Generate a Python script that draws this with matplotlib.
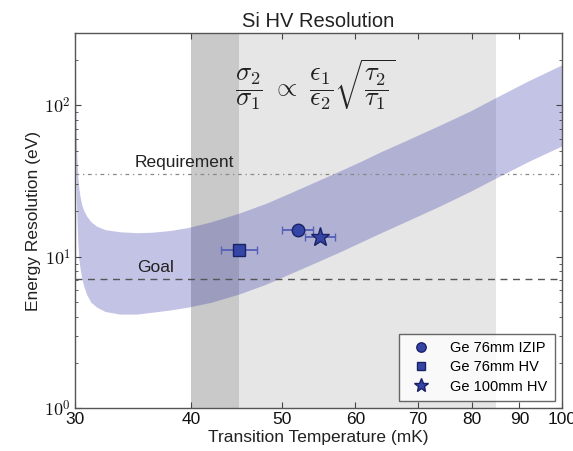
import matplotlib
matplotlib.use("Agg")
import matplotlib.pyplot as plt
from matplotlib.ticker import (FixedLocator, FixedFormatter, LogLocator, NullFormatter,
                               NullLocator, FuncFormatter)
import numpy as np

plt.rcParams['font.family'] = ['Liberation Sans', 'DejaVu Sans']
plt.rcParams['mathtext.fontset'] = 'cm'

# Resolution band: temperature (mK) with upper / lower edge (eV)
band_T = [30.02, 30.05, 30.09, 30.13, 30.2, 30.28, 30.37, 30.5, 30.65, 30.88,
          31.2, 31.64, 32.3, 33.5, 35.0, 36.3, 38.0, 39.7, 42.0, 45.0,
          48.0, 51.0, 54.5, 57.8, 61.0, 63.6, 68.0, 73.8, 79.5, 85.5, 92.0, 100.0]
band_hi = [330, 120, 65, 46, 34, 28.5, 25, 22, 20.2, 18.5,
           17.0, 15.9, 15.1, 14.6, 14.4, 14.5, 14.9, 15.6, 17.0, 19.4,
           22.4, 26.3, 31.5, 37.0, 43.0, 48.7, 58.5, 73.5, 91.0, 115, 145, 185]
band_lo = [60, 35, 25, 19, 12.5, 9.6, 8.4, 7.2, 6.4, 5.6,
           5.0, 4.65, 4.35, 4.18, 4.18, 4.3, 4.45, 4.65, 5.0, 5.67,
           6.55, 7.7, 9.2, 10.8, 12.6, 14.2, 17.1, 21.5, 26.8, 33.8, 42.5, 54]

# Measured devices
dev_names = ["Ge 76mm IZIP", "Ge 76mm HV", "Ge 100mm HV"]
dev_T = [52.0, 45.0, 55.0]
dev_Terr = [2.0, 2.0, 2.0]
dev_res = [15.0, 11.0, 13.5]
dev_markers = ["o", "s", "*"]
dev_sizes = [9, 8, 14]

requirement = 35.0
goal = 7.1

x_ticks = [30, 40, 50, 60, 70, 80, 90, 100]

fig = plt.figure(figsize=(5.73, 4.51), dpi=100)
ax = fig.add_axes([0.131, 0.095, 0.850, 0.832])
ax.set_xscale("log")
ax.set_yscale("log")

# operating temperature window
ax.axvspan(40, 45, color="#c9c9c9", lw=0, zorder=0)
ax.axvspan(45, 85, color="#e6e6e6", lw=0, zorder=0)

ax.fill_between(band_T, band_lo, band_hi, color="#2a2aa8", alpha=0.28, lw=0, zorder=1)

ax.axhline(requirement, color="#888888", ls=(0, (3, 3, 1, 3)), lw=0.9, zorder=2)
ax.axhline(goal, color="#555555", ls=(0, (5, 4)), lw=1.0, zorder=2)
ax.text(39.3, requirement * 1.06, "Requirement", fontsize=12.5, color="#222222",
        ha="center", va="bottom")
ax.text(36.6, goal * 1.06, "Goal", fontsize=12.5, color="#222222",
        ha="center", va="bottom")

for T, dT, r, m, s, name in zip(dev_T, dev_Terr, dev_res, dev_markers, dev_sizes, dev_names):
    ax.errorbar(T, r, xerr=dT, fmt="none", ecolor="#5560b8", elinewidth=1.3,
                capsize=3, capthick=1.0, zorder=3)
    ax.plot(T, r, marker=m, ms=s, color="#3545a5", mec="#1a2266", mew=1.0,
            ls="none", zorder=4, label=name)

ax.text(0.493, 0.86,
        r"$\dfrac{\sigma_2}{\sigma_1}\ \propto\ \dfrac{\epsilon_1}{\epsilon_2}\sqrt{\dfrac{\tau_2}{\tau_1}}$",
        transform=ax.transAxes, fontsize=19, ha="center", va="center", color="#222222")

ax.set_xlim(30, 100)
ax.set_ylim(1, 300)
ax.xaxis.set_major_locator(FixedLocator(x_ticks))
ax.xaxis.set_major_formatter(FixedFormatter([str(t) for t in x_ticks]))
ax.xaxis.set_minor_locator(NullLocator())
ax.yaxis.set_major_locator(LogLocator(base=10))
ax.yaxis.set_major_formatter(FuncFormatter(lambda v, p: r"$10^{%d}$" % int(round(np.log10(v)))))
ax.yaxis.set_minor_locator(LogLocator(base=10, subs=range(2, 10)))
ax.yaxis.set_minor_formatter(NullFormatter())

ax.tick_params(which="both", direction="in", top=True, right=True, colors="#444444",
               labelcolor="#111111")
ax.tick_params(axis="x", which="major", labelsize=12.5, length=4, pad=3)
ax.tick_params(axis="y", which="major", labelsize=13, length=4, pad=3)
ax.tick_params(axis="y", which="minor", length=2)
for sp in ax.spines.values():
    sp.set_color("#555555")
    sp.set_linewidth(1.0)

ax.set_xlabel("Transition Temperature (mK)", fontsize=12.5, color="#222222", labelpad=2)
ax.set_ylabel("Energy Resolution (eV)", fontsize=12.5, color="#222222", labelpad=2)
ax.set_title("Si HV Resolution", fontsize=14.5, color="#222222", pad=4)

leg = ax.legend(loc="lower right", fontsize=10.5, frameon=True, fancybox=False,
                numpoints=1, markerscale=0.75, borderpad=0.5, handletextpad=1.0,
                labelspacing=0.35, borderaxespad=0.5)
leg.get_frame().set_edgecolor("#444444")
leg.get_frame().set_linewidth(1.0)

fig.savefig("out.png", dpi=100)
